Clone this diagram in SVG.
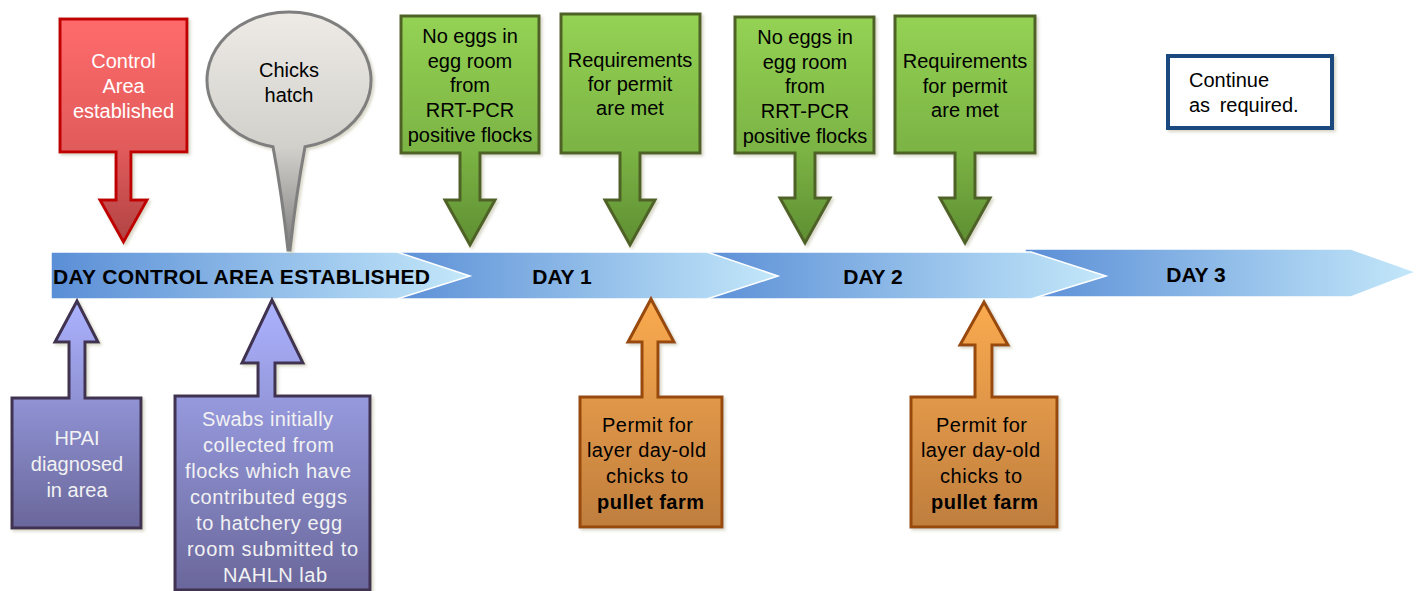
<svg xmlns="http://www.w3.org/2000/svg" width="1416" height="591" viewBox="0 0 1416 591">
<defs>
<linearGradient id="gBand" x1="0" y1="0" x2="1" y2="0"><stop offset="0" stop-color="#5a8ed6"/><stop offset="1" stop-color="#c4e8fa"/></linearGradient>
<linearGradient id="gRed" x1="0" y1="0" x2="0" y2="1"><stop offset="0" stop-color="#ff6b6b"/><stop offset="0.6" stop-color="#e05a5a"/><stop offset="1" stop-color="#b04343"/></linearGradient>
<linearGradient id="gGreen" x1="0" y1="0" x2="0" y2="1"><stop offset="0" stop-color="#94d254"/><stop offset="0.6" stop-color="#7bb344"/><stop offset="1" stop-color="#5e8e32"/></linearGradient>
<linearGradient id="gGray" x1="0" y1="0" x2="0" y2="1"><stop offset="0" stop-color="#eeebe6"/><stop offset="0.57" stop-color="#d2d0cb"/><stop offset="1" stop-color="#7e7e7e"/></linearGradient>
<linearGradient id="gPurple" x1="0" y1="0" x2="0" y2="1"><stop offset="0" stop-color="#acb3ff"/><stop offset="1" stop-color="#6a679b"/></linearGradient>
<linearGradient id="gOrange" x1="0" y1="0" x2="0" y2="1"><stop offset="0" stop-color="#fbab50"/><stop offset="1" stop-color="#bf7e3e"/></linearGradient>
<filter id="sh" x="-10%" y="-10%" width="130%" height="130%"><feDropShadow dx="2" dy="2" stdDeviation="1.5" flood-color="#b8b59a" flood-opacity="0.55"/></filter>
</defs>
<style>
text{font-family:"Liberation Sans",Arial,sans-serif;font-size:20px;text-anchor:middle}
.band{fill:url(#gBand);stroke:#ffffff;stroke-width:1.5}
.day{font-weight:bold;font-size:21px;fill:#000}
.red{fill:url(#gRed);stroke:#c00000;stroke-width:3;filter:url(#sh)}
.green{fill:url(#gGreen);stroke:#4f6228;stroke-width:3;filter:url(#sh)}
.gray{fill:url(#gGray);stroke:#7f7f7f;stroke-width:3;filter:url(#sh)}
.purple{fill:url(#gPurple);stroke:#3f3151;stroke-width:3;filter:url(#sh)}
.orange{fill:url(#gOrange);stroke:#984807;stroke-width:3;filter:url(#sh)}
.cont{fill:#fff;stroke:#1f497d;stroke-width:4;filter:url(#sh)}
.w{fill:#ffffff}
.wp{fill:#f2f2f2}
.k{fill:#000}
.s{text-anchor:start}
</style>

<g id="connectors">
<path class="band" d="M1025,249 H1351 L1416,272 L1351,297 H1025 Z"/>
<path class="band" d="M700,252 H1031 L1106,276 L1031,299 H700 Z"/>
<path class="band" d="M390,252 H707 L778,276 L707,299 H390 Z"/>
<path class="band" d="M51,252 H397 L470,276 L397,299 H51 Z"/>
<text class="day s" x="53" y="284" textLength="377" lengthAdjust="spacing">DAY CONTROL AREA ESTABLISHED</text>
<text class="day" x="562" y="284">DAY 1</text>
<text class="day" x="873" y="284">DAY 2</text>
<text class="day" x="1196" y="282">DAY 3</text>
</g>

<g id="control-area">
<path class="red" d="M60,19 H187 V152 H131 V200 H147 L123.5,242 L100,200 H116 V152 H60 Z"/>
<text class="w" x="123.5" y="68">Control</text>
<text class="w" x="123.5" y="93">Area</text>
<text class="w" x="123.5" y="118">established</text>
</g>

<g id="chicks-hatch">
<path class="gray" d="M273,146.7 A82,68 0 1 1 305,146.7 Q296,195 290,250 L288,250 Q282,195 273,146.7 Z"/>
<text class="k" x="289" y="77">Chicks</text>
<text class="k" x="289" y="102">hatch</text>
</g>

<g id="no-eggs-1">
<path class="green" d="M401,16 H539 V153 H480 V200 H495 L470,245 L445,200 H460 V153 H401 Z"/>
<text class="k" x="470" y="43">No eggs in</text>
<text class="k" x="470" y="68">egg room</text>
<text class="k" x="470" y="92">from</text>
<text class="k" x="470" y="117">RRT-PCR</text>
<text class="k" x="470" y="142">positive flocks</text>
</g>

<g id="requirements-1">
<path class="green" d="M561,14 H700 V153 H640 V200 H655 L630,245 L605,200 H620 V153 H561 Z"/>
<text class="k" x="630" y="67">Requirements</text>
<text class="k" x="630" y="91">for permit</text>
<text class="k" x="630" y="115">are met</text>
</g>

<g id="no-eggs-2">
<path class="green" d="M735,17 H874 V153 H815 V198 H830 L805,243 L780,198 H795 V153 H735 Z"/>
<text class="k" x="805" y="44">No eggs in</text>
<text class="k" x="805" y="69">egg room</text>
<text class="k" x="805" y="93">from</text>
<text class="k" x="805" y="118">RRT-PCR</text>
<text class="k" x="805" y="143">positive flocks</text>
</g>

<g id="requirements-2">
<path class="green" d="M895,16 H1035 V153 H975 V198 H990 L965,243 L940,198 H955 V153 H895 Z"/>
<text class="k" x="965" y="68">Requirements</text>
<text class="k" x="965" y="93">for permit</text>
<text class="k" x="965" y="117">are met</text>
</g>

<g id="continue">
<rect class="cont" x="1168" y="56" width="164" height="72"/>
<text class="k s" x="1189" y="87">Continue</text>
<text class="k s" x="1189" y="112" word-spacing="4">as required.</text>
</g>

<g id="hpai">
<path class="purple" d="M12,398 H69 V342 H55 L77,301 L98,342 H85 V398 H141 V528 H12 Z"/>
<text class="wp" x="77" y="445">HPAI</text>
<text class="wp" x="77" y="471">diagnosed</text>
<text class="wp" x="77" y="497">in area</text>
</g>

<g id="swabs">
<path class="purple" d="M175,396 H258 V363 H242 L272,300 L303,363 H275 V396 H370 V590 H175 Z"/>
<text class="wp s" x="202" y="426" textLength="131" lengthAdjust="spacing">Swabs initially</text>
<text class="wp s" x="203" y="452" textLength="131" lengthAdjust="spacing">collected from</text>
<text class="wp s" x="185" y="478" textLength="166" lengthAdjust="spacing">flocks which have</text>
<text class="wp s" x="190" y="504" textLength="157" lengthAdjust="spacing">contributed eggs</text>
<text class="wp s" x="196" y="530" textLength="146" lengthAdjust="spacing">to hatchery egg</text>
<text class="wp s" x="187" y="556" textLength="171" lengthAdjust="spacing">room submitted to</text>
<text class="wp s" x="223" y="582" textLength="104" lengthAdjust="spacing">NAHLN lab</text>
</g>

<g id="permit-1">
<path class="orange" d="M580,397 H642 V342 H628 L651,299 L674,342 H658 V397 H722 V527 H580 Z"/>
<text class="k s" x="602" y="432" textLength="91" lengthAdjust="spacing">Permit for</text>
<text class="k s" x="587" y="457" textLength="119" lengthAdjust="spacing">layer day-old</text>
<text class="k s" x="606" y="483" textLength="82" lengthAdjust="spacing">chicks to</text>
<text class="k s" x="597" y="509" font-weight="bold" textLength="107" lengthAdjust="spacing">pullet farm</text>
</g>

<g id="permit-2">
<path class="orange" d="M911,397 H975 V345 H960 L984,302 L1008,345 H992 V397 H1057 V527 H911 Z"/>
<text class="k s" x="936" y="432" textLength="91" lengthAdjust="spacing">Permit for</text>
<text class="k s" x="921" y="457" textLength="119" lengthAdjust="spacing">layer day-old</text>
<text class="k s" x="940" y="483" textLength="82" lengthAdjust="spacing">chicks to</text>
<text class="k s" x="931" y="509" font-weight="bold" textLength="107" lengthAdjust="spacing">pullet farm</text>
</g>
</svg>
